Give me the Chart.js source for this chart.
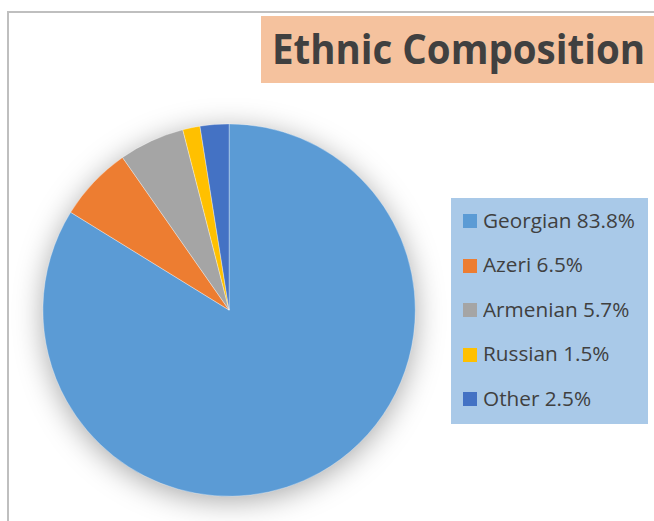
<!DOCTYPE html>
<html>
<head>
<meta charset="utf-8">
<script src="https://cdn.jsdelivr.net/npm/chart.js@4/dist/chart.umd.min.js"></script>
<style>
  html, body { margin: 0; padding: 0; background: #fff; }
  #wrap { position: relative; width: 654px; height: 521px; overflow: hidden; background: #fff; }
  #frame { position: absolute; left: 7px; top: 11px; width: 800px; height: 800px;
           border-left: 2px solid #BFBFBF; border-top: 2px solid #BFBFBF; }
  #c { position: absolute; left: 0; top: 0; }
  #titleBox { position: absolute; left: 261px; top: 16px; width: 393px; height: 66.5px; background: #F5C29E; }
  #title { position: absolute; left: 272px; white-space: nowrap; font-family: "Open Sans", sans-serif;
           font-weight: bold; color: #404040; transform-origin: 0 0; }
  #legendBox { position: absolute; left: 451px; top: 198px; width: 197px; height: 226px; background: #A9C9E8; }
  .sw { position: absolute; width: 14px; height: 14px; }
  .lt { position: absolute; white-space: nowrap; font-family: "Open Sans", sans-serif; color: #404040; transform-origin: 0 0; }
</style>
</head>
<body>
<div id="wrap">
  <div id="frame"></div>
  <canvas id="c" width="654" height="521"></canvas>
  <div id="titleBox"></div>
  <div id="title"></div>
  <div id="legendBox"></div>
</div>
<script>
const titleText = "Ethnic Composition";
const categories = ["Georgian", "Azeri", "Armenian", "Russian", "Other"];
const shares = [83.8, 6.5, 5.7, 1.5, 2.5];
const colors = ["#5B9BD5", "#ED7D31", "#A5A5A5", "#FFC000", "#4472C4"];

const wrap = document.getElementById('wrap');
const mctx = document.createElement('canvas').getContext('2d');

// Title (Open Sans: baseline = top + 0.888*fs when line-height = fs)
const tfs = 40.6;
const tEl = document.getElementById('title');
tEl.textContent = titleText;
tEl.style.fontSize = tfs + 'px';
tEl.style.lineHeight = tfs + 'px';
tEl.style.top = (65 - 0.888 * tfs) + 'px';
mctx.font = 'bold ' + tfs + 'px "Open Sans"';
const tw = mctx.measureText(titleText).width;
tEl.style.transform = 'scaleX(' + (373 / tw) + ')';

// Legend
const lfs = 19.6;
mctx.font = lfs + 'px "Open Sans"';
const firstLabel = categories[0] + ' ' + shares[0].toFixed(1) + '%';
const lscale = 152 / mctx.measureText(firstLabel).width;
categories.forEach((cat, i) => {
  const base = 228.3 + i * 44.5;
  const sw = document.createElement('div');
  sw.className = 'sw';
  sw.style.left = '463px';
  sw.style.top = (base - 14.3) + 'px';
  sw.style.background = colors[i];
  wrap.appendChild(sw);
  const t = document.createElement('div');
  t.className = 'lt';
  t.textContent = cat + ' ' + shares[i].toFixed(1) + '%';
  t.style.fontSize = lfs + 'px';
  t.style.lineHeight = lfs + 'px';
  t.style.left = '482.7px';
  t.style.top = (base - 0.888 * lfs) + 'px';
  t.style.transform = 'scaleX(' + lscale + ')';
  wrap.appendChild(t);
});

const shadowPlugin = {
  id: 'pieShadow',
  beforeDatasetsDraw(chart) {
    const arc = chart.getDatasetMeta(0).data[0];
    if (!arc) return;
    const ctx = chart.ctx;
    ctx.save();
    ctx.shadowColor = 'rgba(0,0,0,0.36)';
    ctx.shadowBlur = 30;
    ctx.shadowOffsetX = 0;
    ctx.shadowOffsetY = 5;
    ctx.beginPath();
    ctx.arc(arc.x, arc.y, arc.outerRadius - 1, 0, Math.PI * 2);
    ctx.fillStyle = '#ffffff';
    ctx.fill();
    ctx.restore();
  }
};

new Chart(document.getElementById('c'), {
  type: 'pie',
  data: {
    labels: categories,
    datasets: [{
      data: shares,
      backgroundColor: colors,
      borderColor: 'rgba(255,255,255,0.55)',
      borderWidth: 0.6
    }]
  },
  options: {
    responsive: false,
    animation: false,
    layout: { padding: { left: 42.6, top: 123.6, right: 238.4, bottom: 24.4 } },
    plugins: {
      legend: { display: false },
      title: { display: false },
      tooltip: { enabled: false }
    }
  },
  plugins: [shadowPlugin]
});
</script>
</body>
</html>
